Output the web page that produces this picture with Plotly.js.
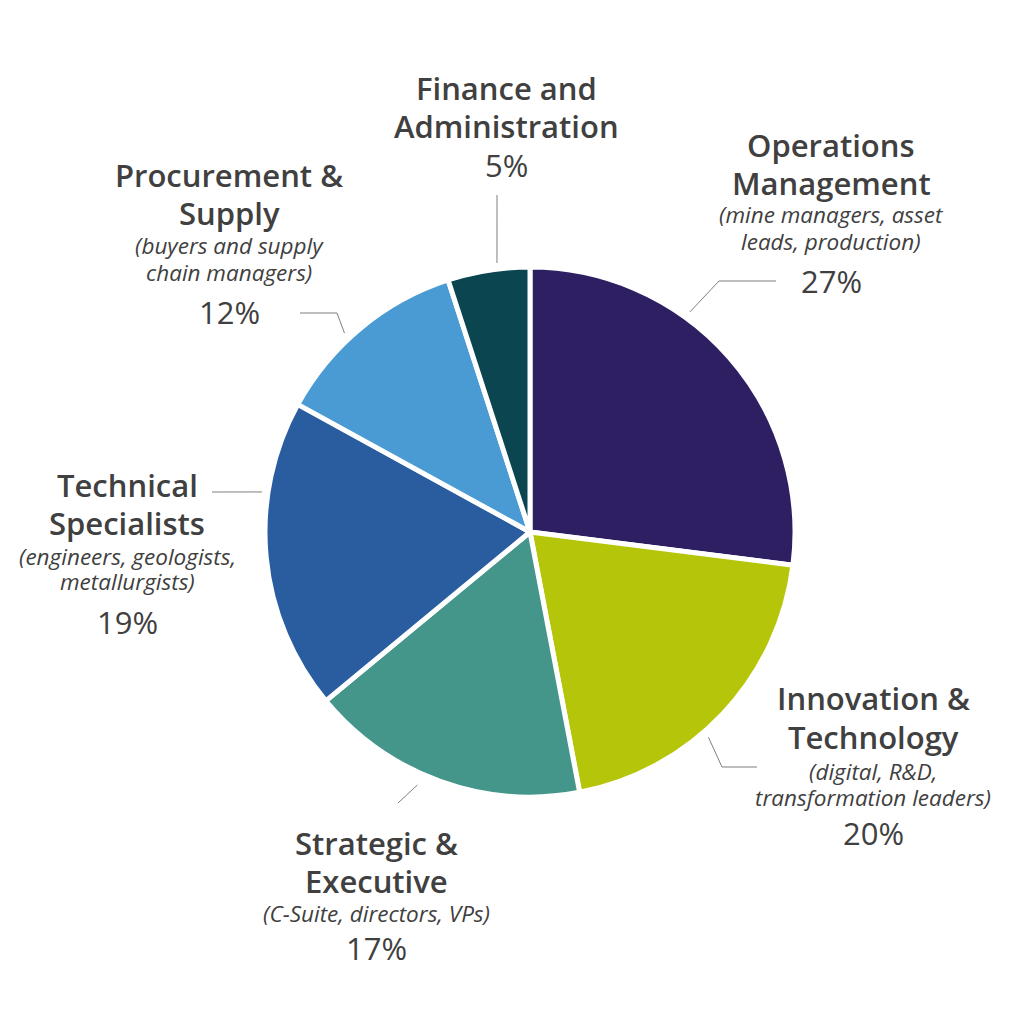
<!DOCTYPE html>
<html>
<head>
<meta charset="utf-8">
<script src="https://cdn.plot.ly/plotly-3.0.1.min.js"></script>
<style>html,body{margin:0;padding:0;background:#fff;}#chart{width:1024px;height:1018px;}</style>
</head>
<body>
<div id="chart"></div>
<script>
// ---- data ----
const categories = ["Operations Management", "Innovation & Technology", "Strategic & Executive",
                    "Technical Specialists", "Procurement & Supply", "Finance and Administration"];
const shares = [27, 20, 17, 19, 12, 5];
const titleLines = [["Operations", "Management"], ["Innovation &", "Technology"], ["Strategic &", "Executive"],
                    ["Technical", "Specialists"], ["Procurement &", "Supply"], ["Finance and", "Administration"]];
const descLines = [["(mine managers, asset", "leads, production)"], ["(digital, R&D,", "transformation leaders)"],
                   ["(C-Suite, directors, VPs)"], ["(engineers, geologists,", "metallurgists)"],
                   ["(buyers and supply", "chain managers)"], []];
const colors = ["#2E1F63", "#B5C60A", "#44968A", "#2A5DA0", "#4A9BD4", "#0A4550"];

// ---- layout / placement (pixels in a 1024x1018 canvas) ----
const W = 1024, H = 1018;
const cx = 530, cy = 532, R = 265;
// per-label x centre and line centre y positions
const place = [
  {x: 831, ty: [145, 183], dy: [215, 241], py: 281},
  {x: 873, ty: [698, 737], dy: [771, 797], py: 833},
  {x: 376, ty: [843, 881], dy: [913],      py: 948},
  {x: 127, ty: [485, 523], dy: [556, 581], py: 622},
  {x: 229, ty: [175, 213], dy: [246, 272], py: 312},
  {x: 506, ty: [88, 126],  dy: [],         py: 165}
];
// leader lines: start on the pie rim at an angle (deg clockwise from top), then elbow/end points
const leaders = [
  {ang: 36,  r: 272, pts: [[719, 281], [776, 281]]},
  {ang: 139, r: 272, pts: [[722, 767], [757, 767]]},
  {ang: 204, r: 277, pts: [[398, 803]]},
  {ang: 278.5, r: 271, pts: [[212, 492]]},
  {ang: 317, r: 272, pts: [[337, 313], [300, 313]]},
  {ang: 353, r: 271, pts: [[497, 195]]}
];

const px = x => x / W;
const py = y => 1 - y / H;
const textColor = "#404040";
const FONT = "Open Sans, sans-serif";

const annotations = [];
const shapes = [];
function addLine(x, y, text, font) {
  annotations.push({
    xref: "paper", yref: "paper", x: px(x), y: py(y), xanchor: "center", yanchor: "middle",
    text: text, showarrow: false, align: "center", font: font
  });
}
categories.forEach((c, i) => {
  const p = place[i];
  titleLines[i].forEach((t, k) => addLine(p.x, p.ty[k], t,
    {family: FONT, size: 31, weight: 600, color: textColor}));
  descLines[i].forEach((t, k) => addLine(p.x, p.dy[k], t,
    {family: FONT, size: 22.5, style: "italic", color: textColor}));
  addLine(p.x, p.py, shares[i] + "%", {family: FONT, size: 31, weight: 400, color: textColor});

  const L = leaders[i];
  const a = L.ang * Math.PI / 180;
  const start = [cx + L.r * Math.sin(a), cy - L.r * Math.cos(a)];
  const all = [start].concat(L.pts);
  let path = "";
  all.forEach((pt, k) => { path += (k ? " L " : "M ") + px(pt[0]) + "," + py(pt[1]); });
  shapes.push({type: "path", xref: "paper", yref: "paper", path: path,
               line: {color: "#7f7f7f", width: 1}});
});

const trace = {
  type: "pie",
  labels: categories,
  values: shares,
  sort: false,
  direction: "clockwise",
  rotation: 0,
  textinfo: "none",
  hoverinfo: "label+percent",
  marker: {colors: colors, line: {color: "#ffffff", width: 5}},
  domain: {x: [(cx - R) / W, (cx + R) / W], y: [1 - (cy + R) / H, 1 - (cy - R) / H]},
  showlegend: false
};

const layout = {
  width: W, height: H,
  margin: {l: 0, r: 0, t: 0, b: 0},
  paper_bgcolor: "#ffffff",
  plot_bgcolor: "#ffffff",
  showlegend: false,
  annotations: annotations,
  shapes: shapes
};

Plotly.newPlot("chart", [trace], layout, {displayModeBar: false, staticPlot: true});
</script>
</body>
</html>
